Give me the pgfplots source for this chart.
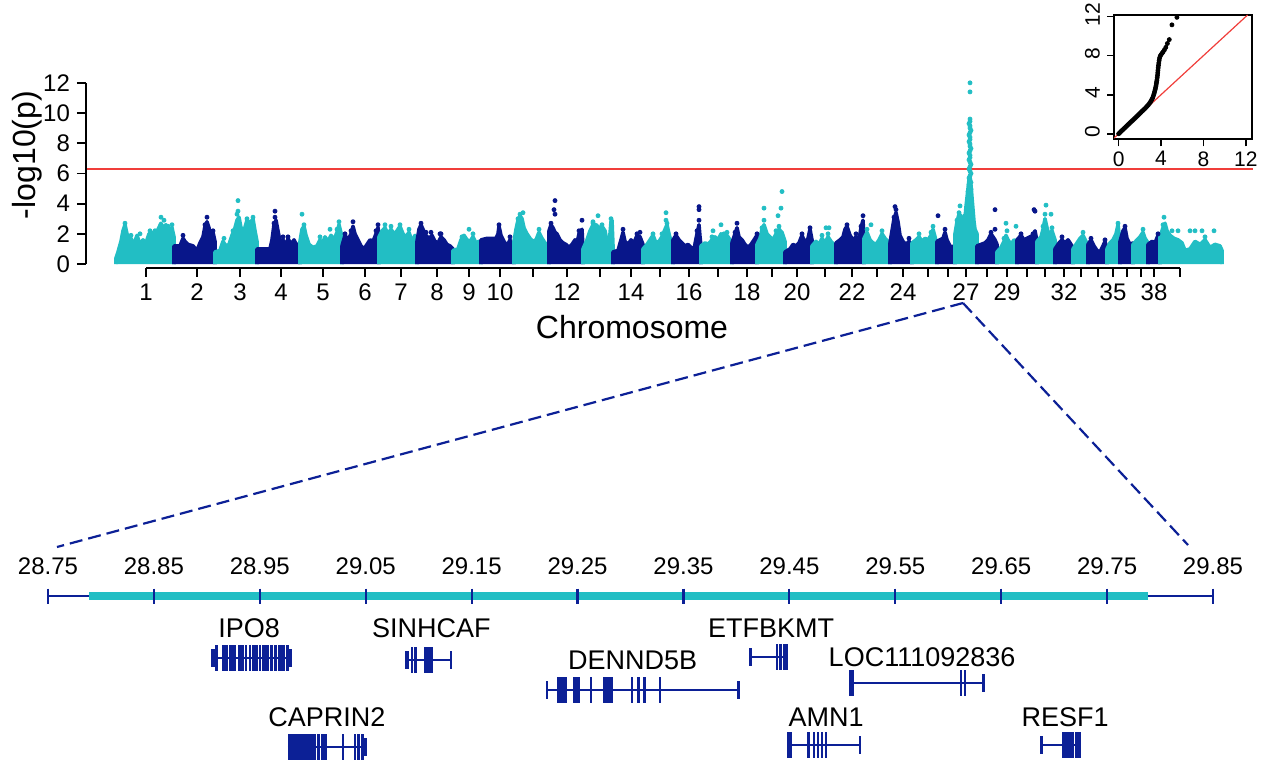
\documentclass[border=0pt]{standalone}
\usepackage{fontspec}
\setmainfont{Liberation Sans}
\usepackage{pgfplots}
\pgfplotsset{compat=1.18}
\definecolor{cyanp}{RGB}{34,190,196}
\definecolor{navyp}{RGB}{8,22,138}
\definecolor{genec}{RGB}{12,32,150}
\definecolor{redl}{RGB}{240,62,58}
\definecolor{darkr}{RGB}{120,25,20}
\pgfplotsset{
  cy/.style={fill=cyanp, draw=cyanp, line width=1.8pt, line join=round},
  nv/.style={fill=navyp, draw=navyp, line width=1.8pt, line join=round},
  cyd/.style={only marks, mark=*, mark size=1pt, cyanp, mark options={draw=cyanp, fill=cyanp}},
  nvd/.style={only marks, mark=*, mark size=1pt, navyp, mark options={draw=navyp, fill=navyp}},
  gbody/.style={genec, line width=1.4pt},
  gex/.style={genec, only marks, mark=|, mark size=6.5pt, mark options={line width=1.3pt}},
  gcap/.style={genec, only marks, mark=|, mark size=4.5pt, mark options={line width=1.3pt}},
}
\begin{document}
\begin{tikzpicture}
\useasboundingbox (0,0) rectangle (631.5pt,381pt);

% ---------------- Manhattan plot ----------------
\begin{axis}[
  at={(43pt,247.1pt)}, anchor=south west,
  width=583.5pt, height=94.75pt, scale only axis,
  xmin=86, xmax=1253, ymin=-0.25, ymax=12.3,
  clip=false,
  axis line style={draw=none},
  tick align=outside, xtick pos=left, ytick pos=left,
  major tick length=4.5pt,
  tick style={black, line width=0.9pt},
  ytick={0,2,...,12},
  xtick={146,197,240,281,323,365,401,437,469,500,533,567,600,631,660,689,718,747,772,797,825,852,877,903,928,948,966,987,1007,1027,1045,1064,1081,1098,1113,1127,1141,1154,1180},
  xticklabels={1,2,3,4,5,6,7,8,9,10,,12,,14,,16,,18,,20,,22,,24,,,27,,29,,,32,,,35,,,38,},
  tick label style={font=\fontsize{12}{14}\selectfont},
  /pgf/number format/assume math mode=true,
]
% chr 1-10
\addplot[cy] coordinates {(116,0)(116,0.4)(118,0.8)(121,1.5)(123,2.2)(125,2.6)(127,2.0)(129,1.4)(131,1.7)(134,1.3)(137,1.9)(140,1.3)(143,1.6)(146,1.4)(149,2.0)(152,2.1)(155,1.8)(158,2.3)(161,2.7)(163,2.4)(166,2.6)(169,2.2)(172,2.4)(174,1.8)(174,0)};
\addplot[nv] coordinates {(174,0)(174,1.2)(180,1.2)(183,1.7)(185,1.5)(188,1.3)(193,1.2)(197,0.9)(200,1.4)(203,1.8)(205,2.5)(207,2.8)(209,2.4)(211,1.6)(213,2.1)(215,1.5)(215,0)};
\addplot[cy] coordinates {(215,0)(215,0.8)(220,0.9)(223,1.5)(226,1.2)(229,1.3)(232,1.9)(235,2.4)(237,2.9)(239,3.1)(241,2.4)(244,2.2)(247,2.9)(250,2.6)(253,3.0)(255,2.2)(257,1.5)(257,0)};
\addplot[nv] coordinates {(257,0)(257,1.0)(270,1.0)(272,1.6)(274,2.6)(276,2.9)(278,2.2)(280,1.5)(283,1.6)(286,1.2)(288,1.7)(291,1.3)(294,1.6)(297,1.2)(300,1.4)(300,0)};
\addplot[cy] coordinates {(300,0)(300,1.5)(302,2.3)(304,2.5)(306,1.9)(309,1.3)(313,1.1)(317,1.2)(320,1.6)(322,1.3)(325,1.8)(328,1.5)(331,1.9)(334,1.6)(337,2.1)(339,2.6)(342,1.8)(342,0)};
\addplot[nv] coordinates {(342,0)(342,1.2)(345,1.9)(348,1.6)(351,2.0)(353,2.5)(355,2.0)(358,1.6)(361,1.2)(364,1.0)(367,1.3)(370,1.6)(373,1.5)(376,2.0)(378,2.4)(379,2.0)(379,0)};
\addplot[cy] coordinates {(379,0)(379,1.8)(382,2.2)(385,2.4)(388,2.0)(391,2.3)(394,2.0)(397,2.2)(400,2.5)(403,2.0)(406,1.8)(409,2.1)(412,1.5)(415,1.9)(417,1.5)(417,0)};
\addplot[nv] coordinates {(417,0)(417,1.5)(419,2.3)(421,2.6)(423,2.3)(426,1.9)(429,1.7)(432,1.9)(435,1.5)(438,1.4)(441,1.8)(444,1.6)(447,1.3)(450,1.2)(453,1.0)(453,0)};
\addplot[cy] coordinates {(453,0)(453,0.9)(458,1.0)(461,1.6)(464,1.9)(467,1.6)(470,1.5)(473,1.8)(476,1.4)(479,1.5)(481,1.2)(481,0)};
\addplot[nv] coordinates {(481,0)(481,1.6)(487,1.7)(496,1.7)(498,2.0)(499,2.5)(501,1.9)(504,1.5)(507,1.2)(510,1.6)(512,1.3)(514,1.0)(514,0)};
% chr 11-20
\addplot[cy] coordinates {(514,0)(514,1.5)(516,2.3)(518,2.9)(520,3.2)(522,3.0)(524,2.4)(527,2.0)(530,1.7)(533,1.5)(536,1.6)(539,2.1)(542,1.7)(545,1.4)(549,1.2)(549,0)};
\addplot[nv] coordinates {(549,0)(549,2.2)(551,2.6)(553,2.4)(555,2.1)(557,2.0)(560,1.6)(563,1.4)(566,1.3)(569,1.1)(572,1.3)(575,1.6)(577,1.4)(579,2.0)(582,2.3)(583,1.0)(583,0)};
\addplot[cy] coordinates {(583,0)(583,1.0)(587,1.6)(590,2.2)(593,2.6)(596,2.6)(599,2.4)(602,2.5)(605,2.2)(607,1.5)(609,1.2)(611,2.8)(612,2.9)(613,1.2)(613,0)};
\addplot[nv] coordinates {(613,0)(613,0.8)(618,0.9)(621,1.6)(623,2.1)(625,1.5)(628,1.3)(631,1.6)(634,1.4)(637,1.9)(640,1.8)(643,1.3)(643,0)};
\addplot[cy] coordinates {(643,0)(643,1.0)(647,1.3)(650,1.6)(653,1.9)(656,1.4)(659,1.5)(662,1.8)(665,2.3)(667,2.6)(669,2.0)(671,1.5)(673,1.2)(673,0)};
\addplot[nv] coordinates {(673,0)(673,1.6)(676,1.9)(679,1.6)(682,1.4)(685,1.2)(688,1.3)(691,1.1)(694,1.0)(697,2.0)(699,2.6)(700,1.8)(701,1.2)(701,0)};
\addplot[cy] coordinates {(701,0)(701,1.2)(705,1.4)(708,1.3)(712,1.6)(715,1.8)(718,1.6)(721,2.0)(724,1.8)(727,1.9)(730,1.6)(732,1.4)(732,0)};
\addplot[nv] coordinates {(732,0)(732,1.4)(735,2.0)(737,2.4)(739,1.8)(742,1.6)(745,1.3)(748,1.1)(751,1.3)(754,1.6)(757,1.9)(757,0)};
\addplot[cy] coordinates {(757,0)(757,1.3)(760,1.7)(762,2.3)(764,2.6)(767,2.0)(770,1.8)(773,1.6)(776,2.0)(779,2.3)(782,2.1)(785,1.5)(785,0)};
\addplot[nv] coordinates {(785,0)(785,0.8)(790,1.0)(793,1.3)(796,1.2)(799,1.4)(802,1.9)(805,1.4)(808,1.7)(810,2.3)(812,1.6)(812,0)};
% chr 21-30
\addplot[cy] coordinates {(812,0)(812,1.2)(816,1.5)(819,1.3)(822,1.7)(825,1.4)(828,1.8)(831,1.5)(834,1.3)(836,1.1)(836,0)};
\addplot[nv] coordinates {(836,0)(836,1.4)(840,1.6)(843,1.8)(845,2.3)(847,2.5)(850,1.9)(853,1.6)(856,1.8)(859,1.6)(861,2.4)(863,2.9)(864,1.5)(864,0)};
\addplot[cy] coordinates {(864,0)(864,1.7)(867,2.1)(870,1.6)(873,1.4)(876,1.3)(879,1.6)(882,2.0)(885,1.7)(888,1.5)(890,1.2)(890,0)};
\addplot[nv] coordinates {(890,0)(890,1.4)(892,2.2)(894,3.0)(896,3.4)(898,2.8)(900,1.9)(903,1.5)(906,1.3)(909,1.5)(912,1.2)(912,0)};
\addplot[cy] coordinates {(912,0)(912,1.4)(916,1.6)(919,1.8)(922,1.5)(925,1.7)(928,1.6)(931,1.9)(933,2.3)(935,1.8)(937,1.3)(937,0)};
\addplot[nv] coordinates {(937,0)(937,1.5)(940,1.6)(943,1.7)(945,2.1)(947,1.6)(950,1.2)(953,1.1)(955,1.3)(955,0)};
\addplot[cy] coordinates {(955,0)(955,2.0)(957,2.8)(959,3.3)(961,3.2)(963,2.6)(965,3.0)(966,3.8)(967,4.4)(968,5.0)(969,5.6)(970,5.8)(971,5.2)(972,4.4)(973,3.6)(974,2.8)(975,2.3)(977,2.0)(977,0)};
\addplot[nv] coordinates {(977,0)(977,1.2)(981,1.3)(985,1.4)(988,1.6)(991,2.0)(993,1.8)(995,1.6)(997,1.3)(997,0)};
\addplot[cy] coordinates {(997,0)(997,0.8)(1001,1.1)(1004,1.5)(1006,1.9)(1008,1.6)(1011,1.3)(1014,1.6)(1017,1.5)(1017,0)};
\addplot[nv] coordinates {(1017,0)(1017,1.6)(1021,1.9)(1024,1.6)(1027,1.7)(1030,1.8)(1033,1.9)(1035,2.2)(1037,1.5)(1037,0)};
% chr 31-38, X
\addplot[cy] coordinates {(1037,0)(1037,1.5)(1041,1.8)(1043,2.3)(1045,3.0)(1047,2.4)(1049,1.9)(1052,2.2)(1055,1.6)(1055,0)};
\addplot[nv] coordinates {(1055,0)(1055,1.0)(1059,1.4)(1062,1.6)(1065,1.4)(1068,1.6)(1071,1.3)(1073,1.1)(1073,0)};
\addplot[cy] coordinates {(1073,0)(1073,1.0)(1077,1.4)(1080,1.7)(1083,1.9)(1086,1.5)(1088,1.2)(1088,0)};
\addplot[nv] coordinates {(1088,0)(1088,1.3)(1091,1.6)(1094,1.2)(1097,0.9)(1100,0.8)(1103,1.2)(1105,1.5)(1107,1.0)(1107,0)};
\addplot[cy] coordinates {(1107,0)(1107,1.0)(1110,1.4)(1113,1.6)(1116,2.0)(1118,2.6)(1120,1.5)(1120,0)};
\addplot[nv] coordinates {(1120,0)(1120,1.5)(1123,2.2)(1125,2.4)(1127,1.7)(1130,1.3)(1133,1.4)(1133,0)};
\addplot[cy] coordinates {(1133,0)(1133,1.3)(1137,1.6)(1140,1.8)(1143,2.1)(1145,1.7)(1148,1.4)(1148,0)};
\addplot[nv] coordinates {(1148,0)(1148,1.3)(1152,1.5)(1155,1.4)(1158,1.9)(1160,1.5)(1160,0)};
\addplot[cy] coordinates {(1160,0)(1160,1.8)(1163,2.4)(1165,2.7)(1167,2.2)(1170,1.9)(1174,1.7)(1178,1.6)(1182,1.4)(1185,0.9)(1190,1.0)(1195,1.5)(1200,1.3)(1205,1.6)(1210,1.1)(1215,1.3)(1220,1.2)(1222,0.9)(1222,0)};
% isolated points
\addplot[cyd] coordinates {(161,3.1)(164,2.9)(238,4.2)(238,3.5)(237,3.3)(302,3.3)(330,2.3)(469,2.3)(523,3.4)(598,3.2)(593,2.8)(666,3.4)(666,2.9)(713,2.2)(721,2.6)(764,3.7)(764,2.9)(778,3.2)(781,3.7)(782,4.8)(826,2.4)(829,2.4)(871,2.6)(960,3.85)(1006,2.7)(1007,2.2)(1016,2.5)(1046,3.9)(1045,3.3)(1051,3.3)(1164,3.1)(1172,2.2)(1178,2.2)(1195,2.2)(1202,2.2)(1214,2.2)};
\addplot[cyd] coordinates {(125,2.7)(131,1.9)(140,2.0)(150,2.2)(155,2.2)(168,2.5)(172,2.6)(224,1.7)(233,2.2)(247,3.0)(251,2.8)(253,3.1)(304,2.6)(320,1.8)(337,2.3)(339,2.8)(385,2.6)(391,2.5)(400,2.6)(409,2.3)(462,1.8)(473,2.0)(518,3.0)(520,3.3)(539,2.3)(593,2.7)(602,2.6)(611,3.0)(653,2.0)(662,2.0)(667,2.7)(712,1.8)(724,2.0)(727,2.1)(762,2.4)(776,2.2)(779,2.5)(822,1.9)(828,2.0)(867,2.3)(882,2.2)(919,2.0)(931,2.1)(933,2.5)(957,2.9)(959,3.4)(965,3.2)(1004,1.7)(1043,2.5)(1052,2.4)(1083,2.1)(1118,2.7)(1143,2.3)(1163,2.6)(1190,2.2)(1205,1.8)};
\addplot[cyd] coordinates {(970,12.0)(970,11.4)(970,9.6)(970,9.45)(969,9.3)(970,9.15)(970,9.0)(971,8.85)(970,8.7)(969,8.55)(970,8.4)(970,8.25)(969,8.1)(970,7.95)(970,7.8)(971,7.65)(970,7.5)(969,7.35)(970,7.2)(970,7.05)(969,6.9)(970,6.75)(971,6.6)(970,6.45)(969,6.3)(970,6.15)(971,6.0)(970,5.85)(969,5.7)(970,5.55)(971,5.4)(969,5.25)(970,5.1)(971,4.95)(968,4.8)(970,4.65)};
\addplot[nvd] coordinates {(207,3.1)(275,3.5)(275,3.1)(353,2.8)(431,2.1)(440,2.0)(555,4.2)(554,3.6)(555,3.3)(582,2.9)(640,2.1)(699,3.8)(699,3.6)(699,2.9)(737,2.7)(863,3.2)(895,3.8)(896,3.6)(938,3.2)(995,3.6)(995,2.3)(1035,3.5)(1034,3.6)};
\addplot[nvd] coordinates {(183,1.9)(205,2.6)(213,2.2)(274,2.7)(283,1.8)(288,1.8)(345,2.0)(351,2.2)(376,2.2)(378,2.6)(421,2.7)(426,2.1)(441,2.0)(499,2.6)(510,1.8)(551,2.7)(579,2.2)(623,2.3)(637,2.0)(676,2.0)(697,2.2)(735,2.1)(757,2.0)(802,2.0)(810,2.4)(847,2.6)(856,2.0)(861,2.5)(894,3.1)(909,1.7)(945,2.3)(991,2.1)(1021,2.0)(1033,2.0)(1062,1.8)(1091,1.7)(1105,1.6)(1125,2.5)(1158,2.0)};
% threshold
\addplot[redl, line width=1pt] coordinates {(86,6.28)(1253,6.28)};
% axis lines (R style)
\draw[black, line width=0.9pt] (axis cs:86,0) -- (axis cs:86,12);
\draw[black, line width=0.9pt] (axis cs:146,-0.25) -- (axis cs:1180,-0.25);
\end{axis}

\node[rotate=90, font=\fontsize{16}{18}\selectfont] at (13.5pt,303.5pt) {-log10(p)};
\node[font=\fontsize{16}{18}\selectfont] at (316pt,217.5pt) {Chromosome};

% ---------------- QQ inset ----------------
\begin{axis}[
  at={(557pt,311.3pt)}, anchor=south west,
  width=69pt, height=62.2pt, scale only axis,
  xmin=-0.44, xmax=12.59, ymin=-0.58, ymax=12.17,
  xtick={0,4,8,12}, ytick={0,4,8,12},
  tick align=outside, xtick pos=left, ytick pos=left,
  major tick length=3.5pt,
  axis line style={line width=0.9pt},
  tick style={black, line width=0.8pt},
  tick label style={font=\fontsize{10.5}{12}\selectfont},
  xticklabel style={yshift=1pt},
  yticklabel style={rotate=90, anchor=south, xshift=1pt},
  /pgf/number format/assume math mode=true,
]
\addplot[only marks, mark=*, mark size=1pt, black] coordinates {(0.0,0.0)(0.1,0.1)(0.2,0.22)(0.3,0.32)(0.4,0.42)(0.5,0.52)(0.6,0.63)(0.7,0.73)(0.8,0.84)(0.9,0.94)(1.0,1.04)(1.1,1.15)(1.2,1.25)(1.3,1.35)(1.4,1.45)(1.5,1.56)(1.6,1.66)(1.7,1.77)(1.8,1.87)(1.9,1.98)(2.0,2.08)(2.1,2.19)(2.2,2.3)(2.3,2.4)(2.4,2.5)(2.5,2.6)(2.6,2.72)(2.7,2.84)(2.8,2.96)(2.9,3.1)(3.0,3.25)(3.08,3.4)(3.15,3.55)(3.22,3.7)(3.28,3.9)(3.34,4.1)(3.39,4.3)(3.44,4.5)(3.48,4.7)(3.52,4.9)(3.55,5.1)(3.58,5.3)(3.61,5.5)(3.64,5.75)(3.67,6.0)(3.69,6.25)(3.71,6.5)(3.73,6.75)(3.76,7.0)(3.79,7.25)(3.82,7.5)(3.86,7.75)(3.92,7.95)(4.0,8.1)(4.1,8.25)(4.2,8.4)(4.32,8.6)(4.45,8.85)(4.6,9.25)(4.78,9.65)(5.03,11.16)(5.5,11.93)};
\addplot[darkr, line width=1.5pt] coordinates {(0,0)(2.6,2.7)};
\addplot[redl, line width=0.6pt] coordinates {(-0.44,-0.44)(12.17,12.17)};
\end{axis}

% ---------------- zoom lines ----------------
\draw[genec, line width=1.1pt, dash pattern=on 6.5pt off 3pt] (481.5pt,229.5pt) -- (28.5pt,107.5pt);
\draw[genec, line width=1.1pt, dash pattern=on 6.5pt off 3pt] (481.5pt,229.5pt) -- (594pt,108.5pt);

% ---------------- gene track ----------------
\begin{axis}[
  at={(24pt,0pt)}, anchor=south west,
  width=582.5pt, height=83pt, scale only axis,
  xmin=28.75, xmax=29.85, ymin=-762, ymax=-596,
  hide axis, clip=false,
]
\addplot[genec, line width=1.1pt] coordinates {(28.75,-596)(29.85,-596)};
\addplot[cyanp, line width=3.6pt] coordinates {(28.789,-596)(29.789,-596)};
\addplot[genec, only marks, mark=|, mark size=3.75pt, mark options={line width=1.1pt}] coordinates {(28.75,-596)(28.85,-596)(28.95,-596)(29.05,-596)(29.15,-596)(29.25,-596)(29.35,-596)(29.45,-596)(29.55,-596)(29.65,-596)(29.75,-596)(29.85,-596)};
\pgfplotsinvokeforeach{28.75,28.85,28.95,29.05,29.15,29.25,29.35,29.45,29.55,29.65,29.75,29.85}{
  \node[font=\fontsize{12}{14}\selectfont] at (axis cs:#1,-566) {#1};
}
% IPO8
\addplot[gbody] coordinates {(28.9049,-658)(28.9795,-658)};
\addplot[gex] coordinates {(28.9089,-658)(28.9159,-658)(28.9175,-658)(28.9190,-658)(28.9224,-658)(28.9240,-658)(28.9263,-658)(28.9302,-658)(28.9320,-658)(28.9340,-658)(28.9371,-658)(28.9406,-658)(28.9437,-658)(28.9452,-658)(28.9467,-658)(28.9502,-658)(28.9533,-658)(28.9550,-658)(28.9571,-658)(28.9610,-658)(28.9648,-658)(28.9687,-658)(28.9705,-658)(28.9726,-658)(28.9764,-658)};
\addplot[gcap] coordinates {(28.9052,-658)(28.9063,-658)(28.9783,-658)(28.9793,-658)};
% SINHCAF
\addplot[gbody] coordinates {(29.0881,-660)(29.1305,-660)};
\addplot[gcap] coordinates {(29.0882,-660)(29.0889,-660)(29.0895,-660)(29.1305,-660)};
\addplot[gex] coordinates {(29.0937,-660)(29.0970,-660)(29.1060,-660)(29.1085,-660)(29.1112,-660)(29.1125,-660)};
% DENND5B
\addplot[gbody] coordinates {(29.2212,-690)(29.4019,-690)};
\addplot[gcap] coordinates {(29.2212,-690)(29.4019,-690)};
\addplot[gex] coordinates {(29.2321,-690)(29.2340,-690)(29.2352,-690)(29.2363,-690)(29.2375,-690)(29.2391,-690)(29.2467,-690)(29.2478,-690)(29.2490,-690)(29.2509,-690)(29.2628,-690)(29.2750,-690)(29.2762,-690)(29.2775,-690)(29.2788,-690)(29.2800,-690)(29.2826,-690)(29.3015,-690)(29.3075,-690)(29.3133,-690)(29.3279,-690)};
% CAPRIN2
\addplot[gbody] coordinates {(28.9766,-747)(29.0496,-747)};
\addplot[gex] coordinates {(28.9775,-747)(28.9783,-747)(28.9800,-747)(28.9813,-747)(28.9828,-747)(28.9842,-747)(28.9858,-747)(28.9872,-747)(28.9885,-747)(28.9898,-747)(28.9912,-747)(28.9930,-747)(28.9945,-747)(28.9957,-747)(28.9972,-747)(28.9995,-747)(29.0022,-747)(29.0053,-747)(29.0091,-747)(29.0122,-747)(29.0285,-747)(29.0399,-747)(29.0431,-747)(29.0469,-747)};
\addplot[gcap] coordinates {(29.0496,-747)};
% ETFBKMT
\addplot[gbody] coordinates {(29.4135,-657)(29.4474,-657)};
\addplot[gcap] coordinates {(29.4135,-657)};
\addplot[gex] coordinates {(29.4385,-657)(29.4416,-657)(29.4450,-657)(29.4474,-657)};
% LOC111092836
\addplot[gbody] coordinates {(29.5079,-683)(29.6332,-683)};
\addplot[gex] coordinates {(29.5079,-683)(29.5097,-683)(29.6119,-683)(29.6158,-683)};
\addplot[gcap] coordinates {(29.6332,-683)};
% AMN1
\addplot[gbody] coordinates {(29.4490,-745)(29.5168,-745)};
\addplot[gex] coordinates {(29.4490,-745)(29.4512,-745)(29.4682,-745)(29.4733,-745)(29.4771,-745)(29.4809,-745)(29.4847,-745)};
\addplot[gcap] coordinates {(29.5168,-745)};
% RESF1
\addplot[gbody] coordinates {(29.6879,-745)(29.7238,-745)};
\addplot[gcap] coordinates {(29.6879,-745)};
\addplot[gex] coordinates {(29.7091,-745)(29.7100,-745)(29.7109,-745)(29.7118,-745)(29.7127,-745)(29.7136,-745)(29.7145,-745)(29.7154,-745)(29.7163,-745)(29.7172,-745)(29.7179,-745)(29.7210,-745)(29.7238,-745)};
% gene names
\node[font=\fontsize{13.5}{15}\selectfont] at (axis cs:28.940,-628) {IPO8};
\node[font=\fontsize{13.5}{15}\selectfont] at (axis cs:29.112,-628) {SINHCAF};
\node[font=\fontsize{13.5}{15}\selectfont] at (axis cs:29.302,-660) {DENND5B};
\node[font=\fontsize{13.5}{15}\selectfont] at (axis cs:29.4327,-628) {ETFBKMT};
\node[font=\fontsize{13.5}{15}\selectfont] at (axis cs:29.5753,-657) {LOC111092836};
\node[font=\fontsize{13.5}{15}\selectfont] at (axis cs:29.0134,-717) {CAPRIN2};
\node[font=\fontsize{13.5}{15}\selectfont] at (axis cs:29.4847,-717) {AMN1};
\node[font=\fontsize{13.5}{15}\selectfont] at (axis cs:29.7103,-717) {RESF1};
\end{axis}
\end{tikzpicture}
\end{document}
